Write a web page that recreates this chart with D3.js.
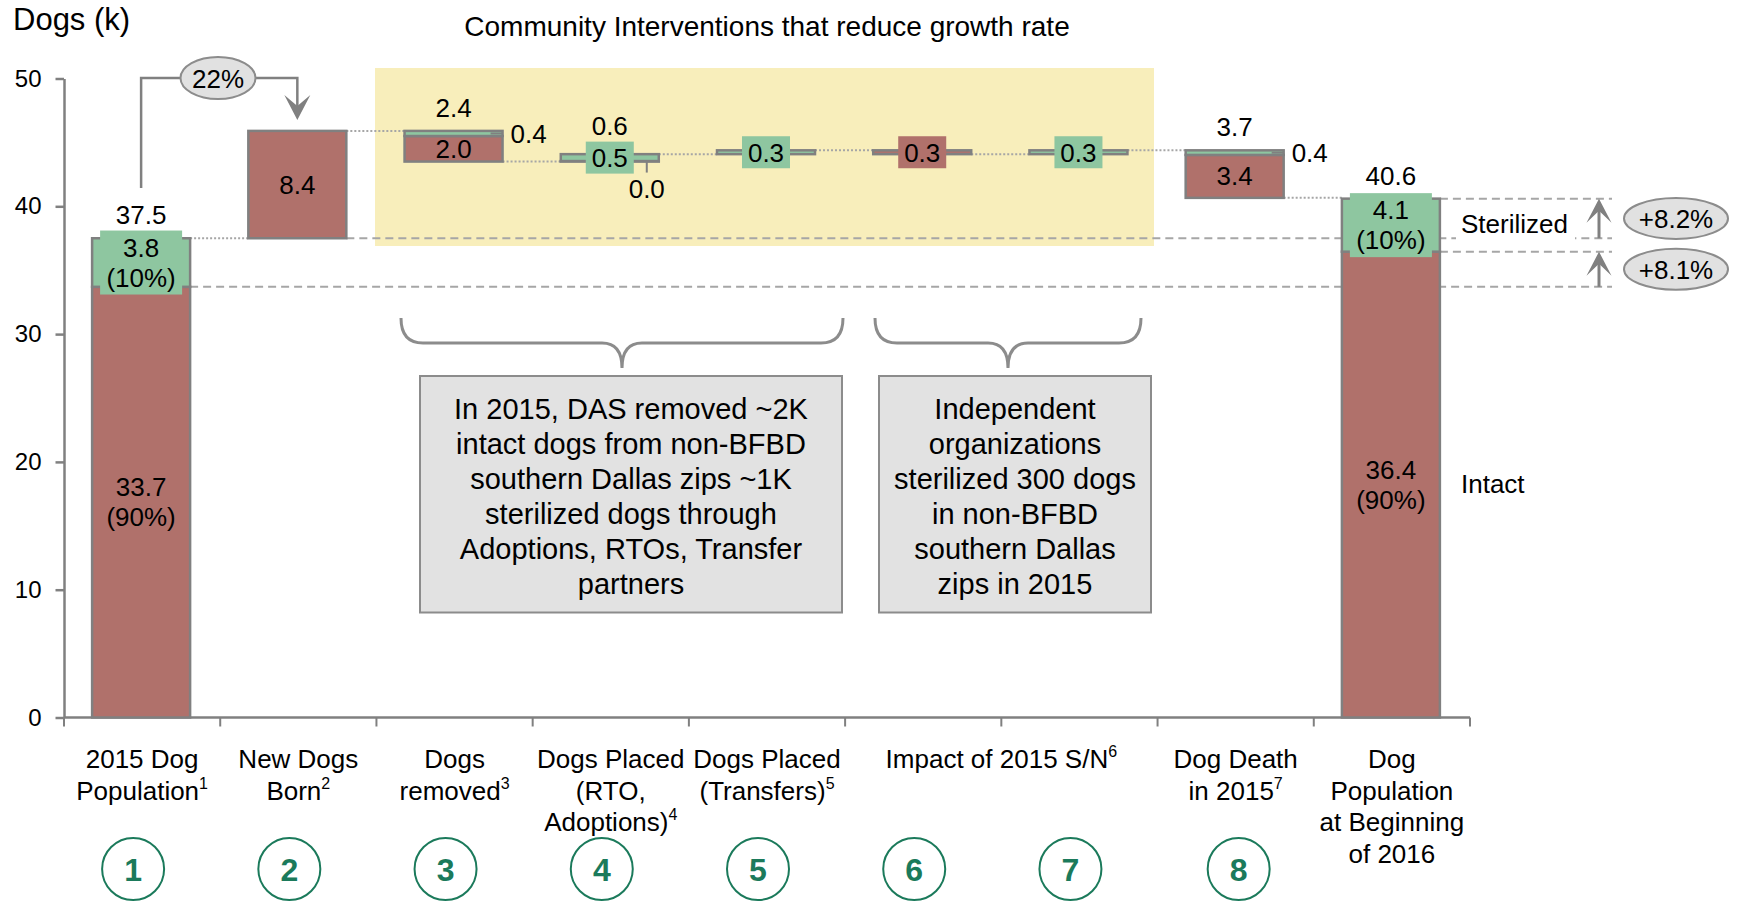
<!DOCTYPE html>
<html>
<head>
<meta charset="utf-8">
<script src="https://cdn.jsdelivr.net/npm/d3@7"></script>
<style>
  body { margin: 0; background: #fff; }
  svg { display: block; font-family: "Liberation Sans", Arial, sans-serif; }
</style>
</head>
<body>
<svg id="chart" width="1739" height="903"></svg>
<script>
// Dog population waterfall 2015 -> 2016 (thousands of dogs)
const categories = ["2015 Dog|Population", "New Dogs|Born", "Dogs|removed", "Dogs Placed|(RTO,|Adoptions)",
  "Dogs Placed|(Transfers)", "Impact of 2015 S/N", "Impact of 2015 S/N", "Dog Death|in 2015",
  "Dog|Population|at Beginning|of 2016"];
const footnotes = ["1", "2", "3", "4", "5", "6", "6", "7", ""];
const barKind = ["total", "delta", "delta", "delta", "delta", "delta", "delta", "delta", "total"];
// signed change per segment (totals are absolute levels)
const intactValues = [33.7, 8.4, -2.0, 0.04, 0, -0.3, 0, -3.36, 36.45];
const sterilizedValues = [3.8, 0, -0.4, 0.54, 0.3, 0, 0.3, -0.36, 4.15];
const totalLabels = ["37.5", "", "2.4", "0.6", "", "", "", "3.7", "40.6"];
const intactLabels = ["33.7|(90%)", "8.4", "2.0", "0.0", "", "0.3", "", "3.4", "36.4|(90%)"];
const sterilizedLabels = ["3.8|(10%)", "", "0.4", "0.5", "0.3", "", "0.3", "0.4", "4.1|(10%)"];
const stepNumbers = ["1", "2", "3", "4", "5", "6", "7", "8", ""];
const yTicks = [0, 10, 20, 30, 40, 50];
const birthGrowth = "22%";
const sterilizedGrowth = "+8.2%";
const intactGrowth = "+8.1%";
const leftNote = ["In 2015, DAS removed ~2K", "intact dogs from non-BFBD", "southern Dallas zips ~1K",
  "sterilized dogs through", "Adoptions, RTOs, Transfer", "partners"];
const rightNote = ["Independent", "organizations", "sterilized 300 dogs", "in non-BFBD",
  "southern Dallas", "zips in 2015"];

const RED = "#b0716b", GREEN = "#8ec6a0", GRAY = "#808080", LINE = "#a6a6a6";
const svg = d3.select("#chart");

const x = d3.scaleBand().domain(d3.range(categories.length)).range([64, 1470]).padding(0);
const y = d3.scaleLinear().domain([0, 50]).range([717.5, 78.5]);
const barW = 98;
const cx = i => x(i) + x.bandwidth() / 2 - 1;
const px = v => y(0) - y(Math.abs(v));

// running levels of the waterfall
let level = 0;
const bars = categories.map((c, i) => {
  const delta = intactValues[i] + sterilizedValues[i];
  const start = barKind[i] === "total" ? 0 : level;
  const end = start + delta;
  level = end;
  const low = Math.min(start, end);
  const mid = low + Math.abs(intactValues[i]);
  const high = mid + Math.abs(sterilizedValues[i]);
  return { i, start, end, low, mid, high, left: cx(i) - barW / 2, right: cx(i) + barW / 2 };
});

function multiText(g, lines, xPos, yFirst, size, lh, anchor) {
  const t = g.append("text").attr("font-size", size).attr("text-anchor", anchor || "middle").attr("fill", "#000");
  lines.forEach((l, k) => t.append("tspan").attr("x", xPos).attr("y", yFirst + k * lh).text(l));
  return t;
}

// yellow band behind the community interventions
svg.append("rect").attr("x", 375).attr("y", 68).attr("width", 779).attr("height", 178).attr("fill", "#f8eebb");

svg.append("text").attr("x", 767).attr("y", 36).attr("text-anchor", "middle").attr("font-size", 28)
  .text("Community Interventions that reduce growth rate");
svg.append("text").attr("x", 13).attr("y", 30).attr("font-size", 31).text("Dogs (k)");

// reference lines on the right
const refEnd = 1612;
const dashed = (x1, x2, v) => svg.append("line").attr("x1", x1).attr("x2", x2).attr("y1", y(v)).attr("y2", y(v))
  .attr("stroke", LINE).attr("stroke-width", 2).attr("stroke-dasharray", "8,5");
dashed(bars[1].right, refEnd, bars[0].end);
dashed(bars[0].right, refEnd, intactValues[0]);
dashed(bars[8].right, refEnd, bars[8].end);
dashed(bars[8].right, refEnd, intactValues[8]);

// dotted connectors between bars
bars.slice(0, -1).forEach((b, i) => {
  svg.append("line").attr("x1", b.right).attr("x2", bars[i + 1].left)
    .attr("y1", y(b.end)).attr("y2", y(b.end))
    .attr("stroke", LINE).attr("stroke-width", 2).attr("stroke-dasharray", "2,2");
});

// axes
const yAxis = d3.axisLeft(y).tickValues(yTicks).tickSize(8.5).tickSizeOuter(0).tickPadding(14);
const ya = svg.append("g").attr("transform", "translate(64,0)").call(yAxis);
ya.selectAll("path, line").attr("stroke", GRAY).attr("stroke-width", 2.5);
ya.selectAll("text").attr("font-size", 24).attr("fill", "#000").attr("font-family", "Liberation Sans, Arial, sans-serif");

svg.append("line").attr("x1", 64).attr("x2", 1470).attr("y1", y(0)).attr("y2", y(0))
  .attr("stroke", GRAY).attr("stroke-width", 2.5);
d3.range(categories.length + 1).forEach(k => {
  const tx = 64 + k * x.bandwidth();
  svg.append("line").attr("x1", tx).attr("x2", tx).attr("y1", y(0)).attr("y2", y(0) + 9)
    .attr("stroke", GRAY).attr("stroke-width", 2);
});

// bars
const barG = svg.append("g");
bars.forEach(b => {
  const segs = [[b.low, b.mid, RED], [b.mid, b.high, GREEN]];
  segs.forEach(([a, c, col]) => {
    if (c - a <= 0) return;
    barG.append("rect").attr("x", b.left).attr("width", barW)
      .attr("y", y(c)).attr("height", y(a) - y(c))
      .attr("fill", col).attr("stroke", GRAY).attr("stroke-width", 2.5);
  });
});

// segment labels
const labG = svg.append("g").attr("font-size", 26);
bars.forEach(b => {
  const i = b.i;
  let topEdge = y(b.high) - 7;
  const segInfo = [
    { v: intactValues[i], lab: intactLabels[i], a: b.low, c: b.mid, col: RED },
    { v: sterilizedValues[i], lab: sterilizedLabels[i], a: b.mid, c: b.high, col: GREEN }
  ];
  segInfo.forEach((s, k) => {
    if (!s.lab) return;
    const other = segInfo[1 - k];
    const h = px(s.v), midY = (y(s.a) + y(s.c)) / 2;
    const lines = s.lab.split("|");
    if (barKind[i] === "total" && k === 1) {
      labG.append("rect").attr("x", cx(i) - 41).attr("y", midY - 32).attr("width", 82).attr("height", 64).attr("fill", GREEN);
      multiText(labG, lines, cx(i), midY - 6, 26, 30);
      topEdge = Math.min(topEdge, midY - 32);
    } else if (h >= 18) {
      multiText(labG, lines, cx(i), lines.length > 1 ? midY - 6 : midY + 9, 26, 30);
    } else if (px(other.v) >= 18) {
      labG.append("line").attr("x1", b.right - 12).attr("x2", b.right).attr("y1", midY).attr("y2", midY)
        .attr("stroke", GRAY).attr("stroke-width", 2);
      multiText(labG, lines, b.right + 8, midY + 9.5, 26, 30, "start");
    } else if (h >= px(other.v)) {
      labG.append("rect").attr("x", cx(i) - 24).attr("y", midY - 16).attr("width", 48).attr("height", 32).attr("fill", s.col);
      multiText(labG, lines, cx(i), midY + 9.5, 26, 30);
      topEdge = Math.min(topEdge, midY - 16);
    } else {
      const lx = b.right - 12, y0 = y(b.low);
      labG.append("line").attr("x1", lx).attr("x2", lx).attr("y1", y0).attr("y2", y0 + 11)
        .attr("stroke", GRAY).attr("stroke-width", 2);
      multiText(labG, lines, lx, y0 + 36.5, 26, 30);
    }
  });
  if (totalLabels[i]) {
    const base = topEdge < y(b.high) - 7 ? topEdge - 7 : y(b.high) - 14;
    multiText(labG, [totalLabels[i]], cx(i), base, 26, 30);
  }
});

// births-as-share-of-population connector
const arrowX = cx(1), arrowY = 78;
svg.append("path").attr("d", `M${cx(0)},188 V${arrowY} H${arrowX} V112`)
  .attr("fill", "none").attr("stroke", GRAY).attr("stroke-width", 2.5);
svg.append("path").attr("d", `M${arrowX},${y(bars[1].high) - 11} L${arrowX - 13},${y(bars[1].high) - 36} L${arrowX},${y(bars[1].high) - 25} L${arrowX + 13},${y(bars[1].high) - 36} Z`)
  .attr("fill", GRAY);
svg.append("ellipse").attr("cx", 218).attr("cy", arrowY).attr("rx", 37.5).attr("ry", 21)
  .attr("fill", "#e1e1e1").attr("stroke", "#8c8c8c").attr("stroke-width", 2);
svg.append("text").attr("x", 218).attr("y", arrowY + 9.5).attr("text-anchor", "middle").attr("font-size", 26).text(birthGrowth);

// right side: segment names, growth arrows and badges
svg.append("rect").attr("x", 1456).attr("y", 208).attr("width", 119).attr("height", 36).attr("fill", "#fff");
svg.append("text").attr("x", 1461).attr("y", 232.5).attr("font-size", 26).text("Sterilized");
svg.append("text").attr("x", 1461).attr("y", 493).attr("font-size", 26).text("Intact");
const growth = [[bars[0].end, bars[8].end, sterilizedGrowth], [intactValues[0], intactValues[8], intactGrowth]];
growth.forEach(([from, to, lab]) => {
  const ax = 1599;
  svg.append("line").attr("x1", ax).attr("x2", ax).attr("y1", y(from)).attr("y2", y(to) + 8)
    .attr("stroke", GRAY).attr("stroke-width", 3);
  svg.append("path").attr("d", `M${ax},${y(to)} L${ax - 12.5},${y(to) + 24} L${ax},${y(to) + 12} L${ax + 12.5},${y(to) + 24} Z`)
    .attr("fill", GRAY);
  const my = (y(from) + y(to)) / 2;
  svg.append("ellipse").attr("cx", 1676).attr("cy", my).attr("rx", 52).attr("ry", 20.5)
    .attr("fill", "#e1e1e1").attr("stroke", "#8c8c8c").attr("stroke-width", 2);
  svg.append("text").attr("x", 1676).attr("y", my + 9.5).attr("text-anchor", "middle").attr("font-size", 26).text(lab);
});

// braces and note boxes
function brace(x0, x1, xm) {
  const t = 318, m = 343, b = 368;
  svg.append("path").attr("d",
    `M${x0},${t} Q${x0},${m} ${x0 + 22},${m} L${xm - 20},${m} Q${xm},${m} ${xm},${b} ` +
    `M${xm},${b} Q${xm},${m} ${xm + 20},${m} L${x1 - 22},${m} Q${x1},${m} ${x1},${t}`)
    .attr("fill", "none").attr("stroke", "#8c8c8c").attr("stroke-width", 3);
}
brace(401, 843, 622);
brace(875, 1141, 1008);
[[420, 842, leftNote], [879, 1151, rightNote]].forEach(([x0, x1, lines]) => {
  svg.append("rect").attr("x", x0).attr("y", 376).attr("width", x1 - x0).attr("height", 236.5)
    .attr("fill", "#e2e2e2").attr("stroke", "#8c8c8c").attr("stroke-width", 2);
  multiText(svg, lines, (x0 + x1) / 2, 418.5, 29, 35);
});

// category labels (merged when shared), with footnote marks
const catG = svg.append("g").attr("font-size", 26);
let k = 0;
while (k < categories.length) {
  let j = k;
  while (j + 1 < categories.length && categories[j + 1] === categories[k]) j++;
  const center = (x(k) + x(j) + x.bandwidth()) / 2;
  const lines = categories[k].split("|");
  const t = catG.append("text").attr("text-anchor", "middle");
  lines.forEach((l, n) => {
    t.append("tspan").attr("x", center).attr("y", 768 + n * 31.5).text(l);
    if (n === lines.length - 1 && footnotes[k]) {
      t.append("tspan").attr("font-size", 16).attr("dy", -11).text(footnotes[k]);
    }
  });
  k = j + 1;
}

// step numbers
stepNumbers.forEach((s, i) => {
  if (!s) return;
  const ccx = cx(i) + (i === 7 ? 4 : -8);
  svg.append("circle").attr("cx", ccx).attr("cy", 869).attr("r", 31)
    .attr("fill", "#fff").attr("stroke", "#1b7a5b").attr("stroke-width", 2);
  svg.append("text").attr("x", ccx).attr("y", 881).attr("text-anchor", "middle")
    .attr("font-size", 32).attr("font-weight", "bold").attr("fill", "#1b7a5b").text(s);
});
</script>
</body>
</html>
